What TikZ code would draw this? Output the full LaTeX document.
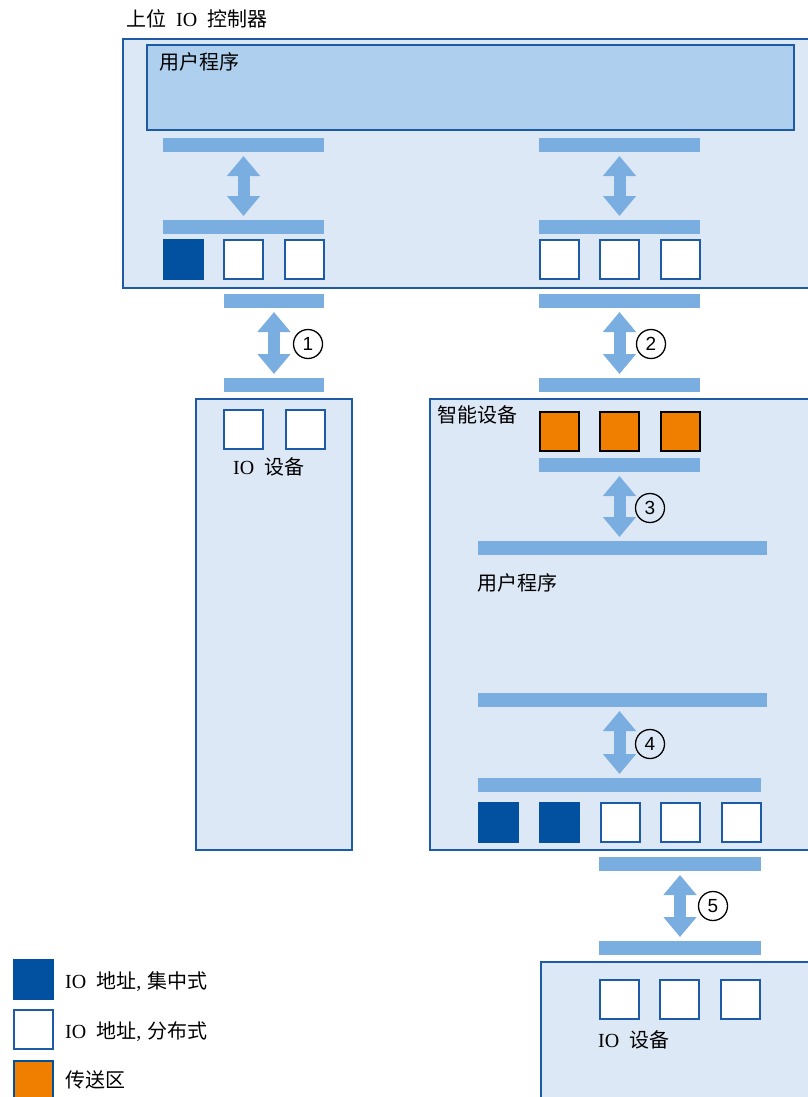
\documentclass[tikz,border=0pt]{standalone}
\usepackage{fontspec}
\setmainfont{Liberation Serif}
\setsansfont{Liberation Sans}
\newfontfamily\cjk{Noto Sans CJK SC}
\usetikzlibrary{arrows.meta}
\definecolor{bgblue}{HTML}{DDE8F6}
\definecolor{progblue}{HTML}{AECFEE}
\definecolor{barblue}{HTML}{7AADE0}
\definecolor{darkblue}{HTML}{0251A0}
\definecolor{edgeblue}{HTML}{1E5BA6}
\definecolor{xorange}{HTML}{F07F00}
\newcommand{\gapio}{\hspace{10pt}}
\tikzset{
  bar/.style={rectangle, fill=barblue, inner sep=0pt, outer sep=0pt, minimum height=14pt, anchor=north west},
  box/.style={rectangle, draw=edgeblue, line width=1.5pt, fill=bgblue, inner sep=0pt, outer sep=0pt, anchor=north west},
  sq/.style={rectangle, draw=edgeblue, line width=1.5pt, fill=white, minimum width=39pt, minimum height=39pt, inner sep=0pt, anchor=north west},
  dsq/.style={sq, fill=darkblue, draw=darkblue},
  osq/.style={sq, fill=xorange, draw=black},
  dblarrow/.style={draw=barblue, line width=12pt, {Triangle[width=32pt,length=20pt]}-{Triangle[width=32pt,length=20pt]}, shorten <=4pt, shorten >=4pt},
  num/.style={circle, draw=black, line width=1.3pt, minimum size=29pt, inner sep=0pt, font=\sffamily\fontsize{19}{19}\selectfont},
  lbl/.style={anchor=west, inner sep=0pt, font=\fontsize{20}{20}\selectfont},
}
\begin{document}
\begin{tikzpicture}[x=1pt,y=-1pt]
\useasboundingbox (0,0) rectangle (808,1097);
\clip (0,0) rectangle (808,1097);
% title
\node[lbl] (title) at (126,19) {\cjk 上位\gapio\rmfamily IO\gapio\cjk 控制器};
% controller
\node[box, minimum width=700pt, minimum height=249pt] (ctrl) at (123,39) {};
\node[box, fill=progblue, minimum width=647pt, minimum height=85pt] (prog) at (147,45) {};
\node[lbl] (progtxt) at (159,62) {\cjk 用户程序};
\node[bar, minimum width=161pt] (a1) at (163,138) {};
\node[bar, minimum width=161pt] (a2) at (539,138) {};
\node[bar, minimum width=161pt] (b1) at (163,220) {};
\node[bar, minimum width=161pt] (b2) at (539,220) {};
\node[dsq] (s1) at (163,239) {};
\node[sq] (s2) at (223,239) {};
\node[sq] (s3) at (284,239) {};
\node[sq] (s4) at (539,239) {};
\node[sq] (s5) at (599,239) {};
\node[sq] (s6) at (660,239) {};
\draw[dblarrow] (a1.south) -- (b1.north);
\draw[dblarrow] (a2.south) -- (b2.north);
% links below controller
\node[bar, minimum width=100pt] (c1) at (224,294) {};
\node[bar, minimum width=161pt] (c2) at (539,294) {};
\node[bar, minimum width=100pt] (d1) at (224,378) {};
\node[bar, minimum width=161pt] (d2) at (539,378) {};
\draw[dblarrow] (c1.south) -- (d1.north);
\draw[dblarrow] (c2.south) -- (d2.north);
\node[num] (n1) at (308,344) {1};
\node[num] (n2) at (651,344) {2};
% IO device left
\node[box, minimum width=156pt, minimum height=451pt] (iodev1) at (196,399) {};
\node[sq] (t1) at (223,409) {};
\node[sq] (t2) at (285,409) {};
\node[lbl] (io1txt) at (233,467) {\rmfamily IO\gapio\cjk 设备};
% smart device
\node[box, minimum width=400pt, minimum height=451pt] (smart) at (430,399) {};
\node[lbl] (smarttxt) at (437,415) {\cjk 智能设备};
\node[osq] (o1) at (539,411) {};
\node[osq] (o2) at (599,411) {};
\node[osq] (o3) at (660,411) {};
\node[bar, minimum width=161pt] (e) at (539,458) {};
\node[bar, minimum width=289pt] (f) at (478,541) {};
\draw[dblarrow] (e.south) -- (e.south |- f.north);
\node[num] (n3) at (650,508) {3};
\node[lbl] (up2) at (477,583) {\cjk 用户程序};
\node[bar, minimum width=289pt] (g) at (478,693) {};
\node[bar, minimum width=283pt] (h) at (478,778) {};
\draw[dblarrow] (h.north |- g.south) -- (h.north);
\node[num] (n4) at (650,744) {4};
\node[dsq] (u1) at (478,802) {};
\node[dsq] (u2) at (539,802) {};
\node[sq] (u3) at (600,802) {};
\node[sq] (u4) at (660,802) {};
\node[sq] (u5) at (721,802) {};
% link 5
\node[bar, minimum width=162pt] (i) at (599,857) {};
\node[bar, minimum width=162pt] (j) at (599,941) {};
\draw[dblarrow] (i.south) -- (j.north);
\node[num] (n5) at (713,906) {5};
% bottom IO device
\node[box, minimum width=300pt, minimum height=200pt] (iodev2) at (541,962) {};
\node[sq] (v1) at (599,979) {};
\node[sq] (v2) at (659,979) {};
\node[sq] (v3) at (720,979) {};
\node[lbl] (io2txt) at (598,1040) {\rmfamily IO\gapio\cjk 设备};
% legend
\node[dsq] (l1) at (13,959) {};
\node[sq] (l2) at (13,1009) {};
\node[osq, draw=darkblue] (l3) at (13,1060) {};
\node[lbl] (lt1) at (65,982) {\rmfamily IO\gapio\cjk 地址\rmfamily,\hspace{6pt}\cjk 集中式};
\node[lbl] (lt2) at (65,1032) {\rmfamily IO\gapio\cjk 地址\rmfamily,\hspace{6pt}\cjk 分布式};
\node[lbl] (lt3) at (65,1080) {\cjk 传送区};
\end{tikzpicture}
\end{document}
